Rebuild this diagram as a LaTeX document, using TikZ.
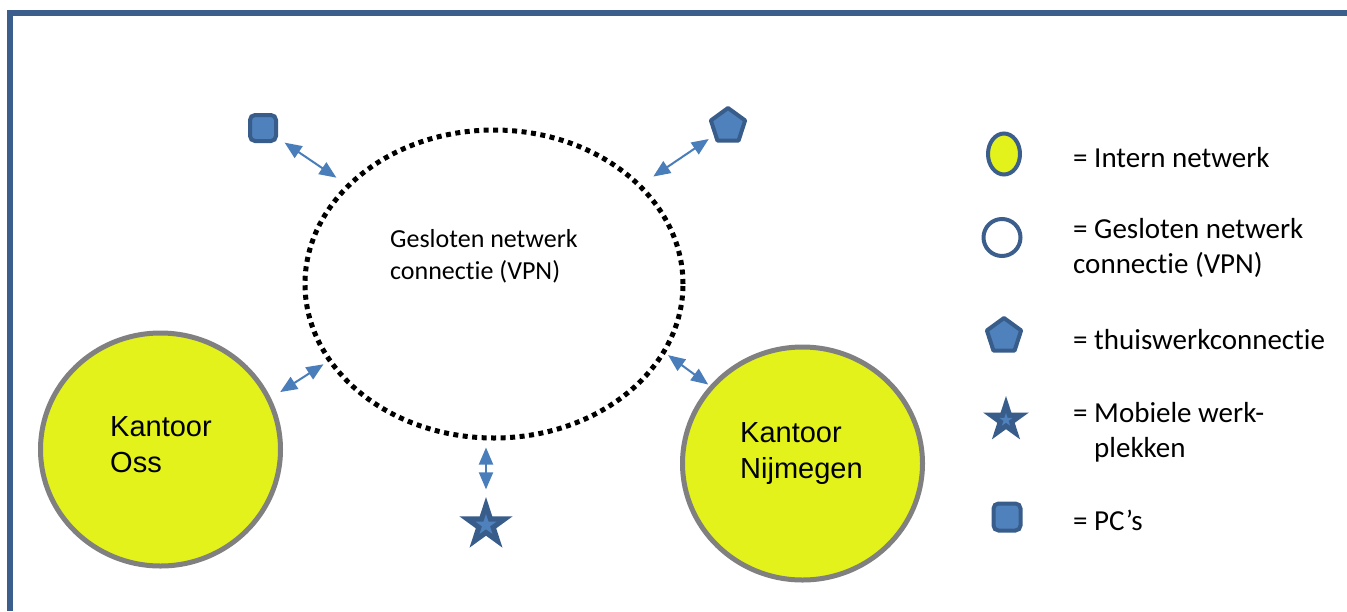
\documentclass[tikz,border=0pt]{standalone}
\usepackage{fontspec}
\setmainfont{Carlito}[Ligatures={NoCommon}]
\newfontfamily\arialf{Liberation Sans}
\usetikzlibrary{shapes.geometric,arrows.meta}
\definecolor{frameblue}{HTML}{3B5E8C}
\definecolor{iconfill}{HTML}{4F81BD}
\definecolor{icondark}{HTML}{385D8A}
\definecolor{arrowblue}{HTML}{4A7EBB}
\definecolor{officeyellow}{HTML}{E3F21A}
\definecolor{officegray}{HTML}{808080}
\begin{document}
\begin{tikzpicture}[x=1pt,y=-1pt,
  office/.style={ellipse, draw=officegray, fill=officeyellow, line width=5pt, minimum width=240pt, minimum height=233pt, inner sep=0pt},
  vpnring/.style={ellipse, draw=black, line width=5pt, dash pattern=on 5pt off 4.5pt, minimum width=378pt, minimum height=308pt, inner sep=0pt},
  pcbox/.style={rectangle, rounded corners=5pt, draw=icondark, fill=iconfill, line width=4pt, minimum size=26pt, inner sep=0pt},
  homebox/.style={regular polygon, regular polygon sides=5, draw=icondark, fill=iconfill, line width=4pt, line join=round, minimum size=36pt, inner sep=0pt},
  starout/.style={star, star points=5, star point ratio=2.618, fill=icondark, minimum size=56pt, inner sep=0pt},
  starin/.style={star, star points=5, star point ratio=2.618, fill=iconfill, minimum size=22pt, inner sep=0pt},
  arr/.style={{Triangle[length=17pt,width=14pt]}-{Triangle[length=17pt,width=14pt]}, line width=2pt, draw=arrowblue},
  officetext/.style={font=\arialf\fontsize{29}{35.5}\selectfont, align=left, anchor=base west, inner sep=0pt},
  vpntext/.style={font=\fontsize{26}{32}\selectfont, align=left, anchor=base west, inner sep=0pt},
  legtext/.style={font=\fontsize{29}{34.5}\selectfont, align=left, anchor=base west, inner sep=0pt},
  legoval/.style={ellipse, draw=frameblue, fill=officeyellow, line width=4pt, minimum width=32pt, minimum height=41pt, inner sep=0pt},
  legring/.style={circle, draw=frameblue, fill=white, line width=4pt, minimum size=37pt, inner sep=0pt}
]
\useasboundingbox (0,0) rectangle (1347,611);
\fill[white] (0,0) rectangle (1347,611);
% frame
\draw[frameblue, line width=5.5pt, line join=miter] (10,611) -- (10,13) -- (1347,13);

% main network
\node[vpnring] (vpn) at (494,284) {};
\node[vpntext] (vpnlabel) at (390,279) {Gesloten netwerk\\connectie (VPN)};

\node[office] (oss) at (160.5,449.5) {};
\node[officetext] (osslabel) at (110,472) {Kantoor\\Oss};
\node[office] (nijm) at (802.5,463.5) {};
\node[officetext] (nijmlabel) at (740,478) {Kantoor\\Nijmegen};

\node[pcbox] (pc) at (263,128) {};
\node[homebox] (home) at (728,126) {};
\node[starout] (star) at (486,525) {};
\node[starin] (starcore) at (486,525) {};

% connectors
\draw[arr, shorten <=8pt, shorten >=12pt] (pc) -- (vpn.146);
\draw[arr, shorten <=6pt, shorten >=14pt] (home) -- (vpn.34);
\draw[arr, shorten <=11pt, shorten >=5pt] (oss.25) -- (vpn.205);
\draw[arr, shorten <=3pt, shorten >=2pt] (vpn.-22) -- (nijm.140);
\draw[arr, shorten <=7pt, shorten >=7pt] (vpn.south -| star.north) -- (star.north);

% legend
\node[legoval] (lgoval) at (1004,154) {};
\node[legtext] (lgovaltext) at (1073,167) {= Intern netwerk};
\node[legring] (lgring) at (1002,237.5) {};
\node[legtext] (lgringtext) at (1073,273) {= Gesloten netwerk\\connectie (VPN)};
\node[homebox] (lghome) at (1004,336) {};
\node[legtext] (lghometext) at (1073,349) {= thuiswerkconnectie};
\node[starout, minimum size=48pt] (lgstar) at (1006,420) {};
\node[starin, minimum size=14pt] (lgstarcore) at (1006,420) {};
\node[legtext] (lgstartext) at (1073,457) {= Mobiele werk-\\\phantom{= }plekken};
\node[pcbox, minimum size=27pt] (lgpc) at (1007,517) {};
\node[legtext] (lgpctext) at (1073,530) {= PC’s};
\end{tikzpicture}
\end{document}
